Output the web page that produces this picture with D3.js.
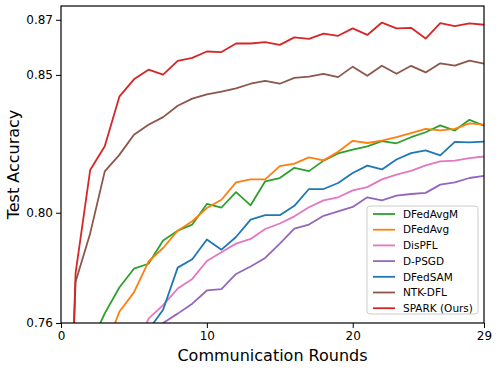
<!DOCTYPE html>
<html>
<head>
<meta charset="utf-8">
<script src="https://d3js.org/d3.v7.min.js"></script>
<style>
  body { margin: 0; background: #fff; }
  text { font-family: "DejaVu Sans", sans-serif; fill: #000; }
  .tick text { font-size: 12px; }
  .axis-label { font-size: 16px; }
  .legend-text { font-size: 10.5px; }
</style>
</head>
<body>
<div id="chart"></div>
<script>
// rounds 0..29
let rounds = d3.range(0, 30);

let methods = ["DFedAvgM", "DFedAvg", "DisPFL", "D-PSGD", "DFedSAM", "NTK-DFL", "SPARK (Ours)"];
let colors = ["#2ca02c", "#ff7f0e", "#e377c2", "#9467bd", "#1f77b4", "#8c564b", "#d62728"];

let yTicks = [0.76, 0.80, 0.85, 0.87];
let xTicks = [0, 10, 20, 29];

// test accuracy per round (early rounds sit under the axis)
let dfedavgm = [0.62, 0.72, 0.752, 0.7635, 0.7729, 0.7797, 0.7815, 0.7899, 0.7935, 0.7957,
  0.8032, 0.8019, 0.8075, 0.8027, 0.8114, 0.8126, 0.8163, 0.8151, 0.8189, 0.8215,
  0.8229, 0.8241, 0.8260, 0.8252, 0.8274, 0.8292, 0.8317, 0.8298, 0.8337, 0.8316];
let dfedavg = [0.62, 0.70, 0.735, 0.750, 0.7641, 0.7711, 0.7823, 0.7872, 0.7935, 0.7969,
  0.8017, 0.8047, 0.8110, 0.8121, 0.8121, 0.8169, 0.8178, 0.8201, 0.8190, 0.8221,
  0.8261, 0.8253, 0.8262, 0.8274, 0.8289, 0.8304, 0.8299, 0.8304, 0.8324, 0.8320];
let dispfl = [0.62, 0.68, 0.71, 0.73, 0.74, 0.748, 0.7616, 0.7665, 0.7725, 0.7760,
  0.7825, 0.7857, 0.7888, 0.7905, 0.7941, 0.7961, 0.7987, 0.8020, 0.8045, 0.8056,
  0.8081, 0.8093, 0.8121, 0.8138, 0.8152, 0.8172, 0.8186, 0.8189, 0.8198, 0.8204];
let dpsgd = [0.62, 0.67, 0.70, 0.72, 0.735, 0.745, 0.754, 0.7600, 0.7634, 0.7670,
  0.7718, 0.7723, 0.7778, 0.7805, 0.7836, 0.7888, 0.7942, 0.7957, 0.7989, 0.8005,
  0.8021, 0.8056, 0.8045, 0.8062, 0.8068, 0.8072, 0.8102, 0.8110, 0.8126, 0.8134];
let dfedsam = [0.62, 0.68, 0.71, 0.73, 0.745, 0.750, 0.7575, 0.7648, 0.7801, 0.7831,
  0.7903, 0.7866, 0.7912, 0.7975, 0.7991, 0.7991, 0.8025, 0.8086, 0.8086, 0.8108,
  0.8144, 0.8171, 0.8157, 0.8193, 0.8216, 0.8226, 0.8208, 0.8257, 0.8255, 0.8258];
let ntkdfl = [0.62, 0.7750, 0.7925, 0.8150, 0.8210, 0.8283, 0.8319, 0.8347, 0.8388, 0.8414,
  0.8429, 0.8439, 0.8451, 0.8468, 0.8478, 0.8468, 0.8489, 0.8494, 0.8504, 0.8492,
  0.8530, 0.8497, 0.8533, 0.8504, 0.8533, 0.8509, 0.8542, 0.8534, 0.8552, 0.8541];
let spark = [0.62, 0.7781, 0.8155, 0.8241, 0.8421, 0.8484, 0.8519, 0.8501, 0.8551, 0.8562,
  0.8585, 0.8583, 0.8614, 0.8614, 0.8619, 0.8609, 0.8636, 0.8631, 0.8650, 0.8642,
  0.8669, 0.8645, 0.8690, 0.8669, 0.8671, 0.8632, 0.8688, 0.8677, 0.8687, 0.8682];

let allSeries = [dfedavgm, dfedavg, dispfl, dpsgd, dfedsam, ntkdfl, spark];

let width = 499;
let height = 370;
let margin = {top: 6, right: 15, bottom: 47, left: 61};
let plotW = width - margin.left - margin.right;
let plotH = height - margin.top - margin.bottom;

let svg = d3.select("#chart").append("svg")
  .attr("width", width)
  .attr("height", height);

let xScale = d3.scaleLinear()
  .domain([0, 29])
  .range([0, plotW]);

let yScale = d3.scaleLinear()
  .domain([0.76, 0.875])
  .range([plotH, 0]);

svg.append("defs").append("clipPath")
  .attr("id", "plotClip")
  .append("rect")
  .attr("width", plotW)
  .attr("height", plotH);

let g = svg.append("g")
  .attr("transform", "translate(" + margin.left + "," + margin.top + ")");

// lines
let valueline = d3.line()
  .x(function(d, i) { return xScale(rounds[i]); })
  .y(function(d) { return yScale(d); });

let lineGroup = g.append("g").attr("clip-path", "url(#plotClip)");

allSeries.forEach(function(series, k) {
  lineGroup.append("path")
    .attr("d", valueline(series))
    .attr("fill", "none")
    .attr("stroke", colors[k])
    .attr("stroke-width", 1.8)
    .attr("stroke-linejoin", "round");
});

// axes
let xAxis = d3.axisBottom(xScale)
  .tickValues(xTicks)
  .tickSize(5)
  .tickPadding(3)
  .tickFormat(d3.format("d"));

let yAxis = d3.axisLeft(yScale)
  .tickValues(yTicks)
  .tickSize(5)
  .tickPadding(3)
  .tickFormat(d3.format(".2f"));

g.append("g")
  .attr("transform", "translate(0," + plotH + ")")
  .call(xAxis)
  .call(function(a) { a.select(".domain").remove(); });

g.append("g")
  .call(yAxis)
  .call(function(a) { a.select(".domain").remove(); });

g.selectAll(".tick line").attr("stroke", "#000").attr("stroke-width", 1);

// frame around the plot
g.append("rect")
  .attr("width", plotW)
  .attr("height", plotH)
  .attr("fill", "none")
  .attr("stroke", "#000")
  .attr("stroke-width", 1.2);

svg.append("text")
  .attr("class", "axis-label")
  .attr("x", margin.left + plotW / 2)
  .attr("y", 361)
  .style("text-anchor", "middle")
  .text("Communication Rounds");

svg.append("text")
  .attr("class", "axis-label")
  .attr("transform", "rotate(-90)")
  .attr("x", -(margin.top + plotH / 2))
  .attr("y", 19)
  .style("text-anchor", "middle")
  .text("Test Accuracy");

// legend
let legend = svg.append("g").attr("transform", "translate(367,206)");

legend.append("rect")
  .attr("width", 111)
  .attr("height", 108)
  .attr("rx", 3)
  .attr("fill", "#fff")
  .attr("fill-opacity", 0.8)
  .attr("stroke", "#ccc")
  .attr("stroke-width", 1);

methods.forEach(function(name, k) {
  let rowY = 8 + k * 15.7;
  legend.append("line")
    .attr("x1", 6)
    .attr("x2", 28)
    .attr("y1", rowY)
    .attr("y2", rowY)
    .attr("stroke", colors[k])
    .attr("stroke-width", 1.8);
  legend.append("text")
    .attr("class", "legend-text")
    .attr("x", 36)
    .attr("y", rowY)
    .attr("dy", "0.36em")
    .text(name);
});
</script>
</body>
</html>
